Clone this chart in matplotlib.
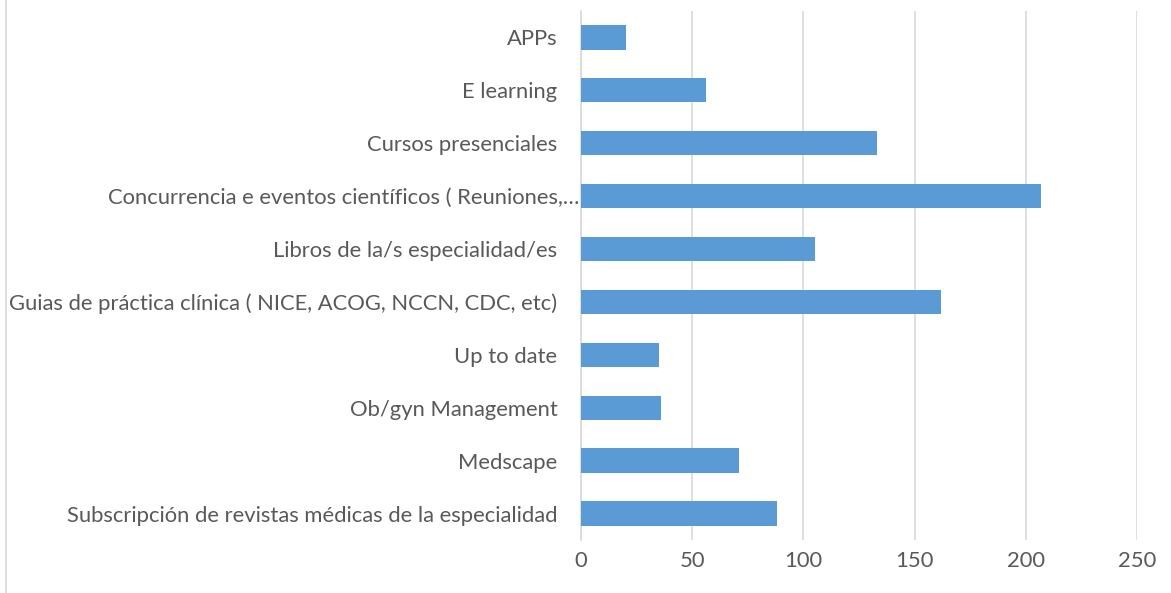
import matplotlib.pyplot as plt
from matplotlib.lines import Line2D
from matplotlib.transforms import ScaledTranslation

# Data (bottom to top, as in the chart)
categories = [
    "Subscripción de revistas médicas de la especialidad",
    "Medscape",
    "Ob/gyn Management",
    "Up to date",
    "Guias de práctica clínica ( NICE, ACOG, NCCN, CDC, etc)",
    "Libros de la/s especialidad/es",
    "Concurrencia e eventos científicos ( Reuniones,…",
    "Cursos presenciales",
    "E learning",
    "APPs",
]
values = [88, 71, 36, 35, 162, 105, 207, 133, 56, 20]
x_ticks = [0, 50, 100, 150, 200, 250]

plt.rcParams["font.family"] = ["Lato", "DejaVu Sans"]

fig = plt.figure(figsize=(11.71, 5.93), dpi=100)
ax = fig.add_axes([0.4962, 0.0894, 0.4748, 0.8921])

y = range(len(categories))
ax.barh(y, values, height=0.46, color="#5b9bd5", zorder=3)

ax.set_xlim(0, 250)
ax.set_ylim(-0.5, len(categories) - 0.5)
ax.set_xticks(x_ticks)
ax.set_yticks(list(y))
ax.set_yticklabels(categories)

ax.grid(axis="x", color="#d9d9d9", linewidth=1.2, zorder=0)
ax.tick_params(axis="both", length=0, labelsize=15.8, colors="#595959")
ax.tick_params(axis="y", pad=17)
ax.tick_params(axis="x", pad=8)

# the truncated label sticks out a bit to the right, as in the original
for lbl in ax.get_yticklabels():
    if lbl.get_text().endswith("…"):
        lbl.set_transform(lbl.get_transform() + ScaledTranslation(0.22, 0, fig.dpi_scale_trans))

for side in ["top", "right", "bottom"]:
    ax.spines[side].set_visible(False)
ax.spines["left"].set_color("#d9d9d9")
ax.spines["left"].set_linewidth(1.2)

# chart area border on the left edge
fig.add_artist(Line2D([0.005, 0.005], [0, 1], transform=fig.transFigure,
                      color="#d9d9d9", linewidth=1.2))

fig.savefig("out.png", dpi=100)
